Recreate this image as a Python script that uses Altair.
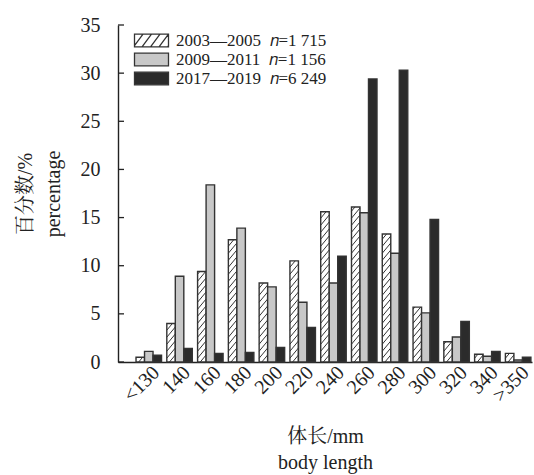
import json
import altair as alt
import pandas as pd

# ---------------- data ----------------
categories = ['<130', '140', '160', '180', '200', '220', '240', '260', '280',
              '300', '320', '340', '>350']
period_2003_2005 = [0.5, 4.0, 9.4, 12.7, 8.2, 10.5, 15.6, 16.1, 13.3, 5.7, 2.1, 0.8, 0.9]
period_2009_2011 = [1.1, 8.9, 18.4, 13.9, 7.8, 6.2, 8.2, 15.5, 11.3, 5.1, 2.6, 0.6, 0.2]
period_2017_2019 = [0.7, 1.4, 0.9, 1.0, 1.5, 3.6, 11.0, 29.4, 30.3, 14.8, 4.2, 1.1, 0.5]
series_labels = ['2003—2005\u00a0\u00a0𝑛=1\u00a0715',
                 '2009—2011\u00a0\u00a0𝑛=1\u00a0156',
                 '2017—2019\u00a0\u00a0𝑛=6\u00a0249']
y_ticks = [0, 5, 10, 15, 20, 25, 30, 35]
y_title = ['百分数/%', 'percentage']
x_title = ['体长/mm', 'body length']

# ---------------- layout / style ----------------
W, H = 414, 337
XDOM = [-1.0, 12.45]
YDOM = [0, 35]
PX_X = W / (XDOM[1] - XDOM[0])
PX_Y = H / (YDOM[1] - YDOM[0])
BAR_W = 8.5 / PX_X
FILLS = ['#ffffff', '#c8c8c8', '#2b2b2b']
EDGE = '#333333'
FONT = 'Liberation Serif, Noto Serif CJK SC, Noto Sans CJK SC, serif'

series_values = [period_2003_2005, period_2009_2011, period_2017_2019]

bar_rows = []
for j, vals in enumerate(series_values):
    for i, v in enumerate(vals):
        left = i - 1.5 * BAR_W + j * BAR_W
        bar_rows.append(dict(series=series_labels[j], left=left, right=left + BAR_W,
                             value=v, fill=FILLS[j]))
bars_df = pd.DataFrame(bar_rows)

# hatch lines for the first series (derived from its values)
SLOPE, GAP = 1.2, 7.0
hatch_rows = []
for i, v in enumerate(period_2003_2005):
    left = i - 1.5 * BAR_W
    w = BAR_W * PX_X
    h = v * PX_Y
    c = -SLOPE * w
    while c < h:
        x_lo = max(0.0, -c / SLOPE)
        x_hi = min(w, (h - c) / SLOPE)
        if x_hi - x_lo > 0.3:
            hatch_rows.append(dict(hx=left + x_lo / PX_X, hx2=left + x_hi / PX_X,
                                   hy=(c + SLOPE * x_lo) / PX_Y,
                                   hy2=(c + SLOPE * x_hi) / PX_Y))
        c += GAP
hatch_df = pd.DataFrame(hatch_rows)

ticks_df = pd.DataFrame({'tick': y_ticks})

# legend symbol paths (custom symbol, unit = sqrt(size)/2 px)
SYM_SIZE = 159
R = SYM_SIZE ** 0.5 / 2
HW = 17 / R
rect_path = f'M{-HW:.3f},-1H{HW:.3f}V1H{-HW:.3f}Z'
dx = 1.5
step = 8.5 / R
parts = [rect_path]
b = -HW - dx
while b < HW:
    t0 = max(0.0, (-HW - b) / dx)
    t1 = min(1.0, (HW - b) / dx)
    if t1 - t0 > 0.05:
        parts.append(f'M{b + dx * t0:.3f},{1 - 2 * t0:.3f}L{b + dx * t1:.3f},{1 - 2 * t1:.3f}')
    b += step
hatch_path = ''.join(parts)

legend_df = pd.DataFrame({'series': series_labels})

# ---------------- encodings ----------------
x_scale = alt.Scale(domain=XDOM, nice=False, zero=False)
y_scale = alt.Scale(domain=YDOM, nice=False)
x_axis = alt.Axis(values=list(range(len(categories))),
                  labelExpr=json.dumps(categories) + '[datum.value]',
                  ticks=False, grid=False, labelAngle=-45, labelAlign='right',
                  labelBaseline='top', labelPadding=0, labelOverlap=False,
                  labelFlush=False, title=x_title,
                  titleX=W / 2, titleY=80, titleAnchor='middle', titleAlign='center',
                  titleBaseline='alphabetic', titleLineHeight=26)
y_axis = alt.Axis(values=y_ticks, ticks=False, grid=False, labelPadding=18,
                  labelOverlap=False, labelFlush=False,
                  title=y_title, titleAngle=-90, titleX=-87, titleY=H / 2,
                  titleAlign='center', titleBaseline='alphabetic', titleLineHeight=28)

bars = alt.Chart(bars_df).mark_bar(stroke=EDGE, strokeWidth=1.4).encode(
    x=alt.X('left:Q', scale=x_scale, axis=x_axis),
    x2='right:Q',
    y=alt.Y('value:Q', scale=y_scale, axis=y_axis),
    y2=alt.datum(0),
    fill=alt.Fill('fill:N', scale=None),
)

hatch = alt.Chart(hatch_df).mark_rule(stroke=EDGE, strokeWidth=1.0).encode(
    x=alt.X('hx:Q', scale=x_scale, axis=x_axis),
    x2='hx2:Q',
    y=alt.Y('hy:Q', scale=y_scale, axis=y_axis),
    y2='hy2:Q',
)

ticks = alt.Chart(ticks_df).mark_rule(stroke='#222', strokeWidth=1.3).encode(
    y=alt.Y('tick:Q', scale=y_scale, axis=y_axis),
    x=alt.value(0),
    x2=alt.value(6),
)

leg = alt.Legend(title=None)
legend_pts = alt.Chart(legend_df).mark_point(filled=True, strokeWidth=1.3).encode(
    x=alt.value(-600),
    y=alt.value(-600),
    fill=alt.Fill('series:N', scale=alt.Scale(domain=series_labels, range=FILLS),
                  legend=leg),
    stroke=alt.Stroke('series:N', scale=alt.Scale(domain=series_labels,
                                                  range=[EDGE, EDGE, EDGE]),
                      legend=leg),
    shape=alt.Shape('series:N', scale=alt.Scale(domain=series_labels,
                                                range=[hatch_path, rect_path, rect_path]),
                    legend=leg),
)

chart = alt.layer(bars, hatch, ticks, legend_pts).properties(
    width=W, height=H, autosize='none',
    padding={'left': 118, 'top': 25, 'right': 2, 'bottom': 113},
).configure_view(stroke=None).configure_axis(
    domainColor='#222', domainWidth=1.4,
    labelFont=FONT, labelFontSize=20, labelColor='#222',
    titleFont=FONT, titleFontSize=20, titleColor='#222', titleFontWeight='normal',
).configure_legend(
    orient='none', legendX=25, legendY=7, padding=0,
    symbolSize=SYM_SIZE, symbolStrokeColor=EDGE, symbolStrokeWidth=1.3,
    symbolOpacity=1, labelFont=FONT, labelFontSize=17, labelColor='#222',
    labelOffset=16, rowPadding=0, labelLimit=400,
)

chart.save('out.html', embed_options={'renderer': 'svg', 'actions': False})
